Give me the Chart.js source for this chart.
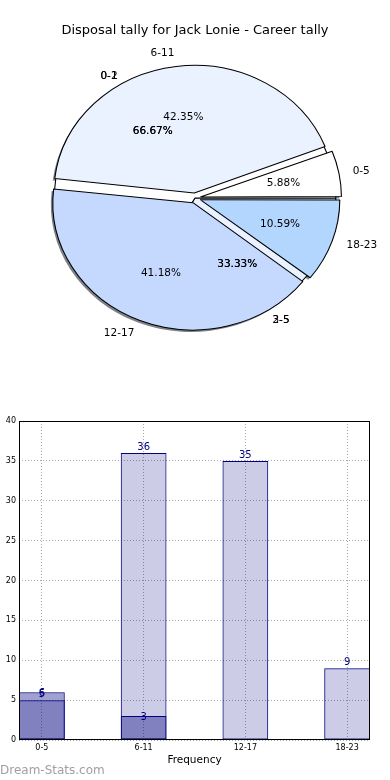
<!DOCTYPE html>
<html>
<head>
<meta charset="utf-8">
<script src="https://cdn.jsdelivr.net/npm/chart.js@4.4.0/dist/chart.umd.min.js"></script>
<style>
    html, body { margin: 0; padding: 0; background: #fff; }
    body { width: 390px; height: 780px; position: relative; overflow: hidden; font-family: 'DejaVu Sans', sans-serif; }
    .pie { position: absolute; left: 0; top: 0; }
    #pieShadow { left: -2px; top: 2px; z-index: 1; }
    #pieRookie { z-index: 2; }
    #pieCareer { z-index: 3; }
    #titulo { position: absolute; top: 21px; left: 0; width: 390px; text-align: center; font-size: 13px; line-height: 18px; color: #000; z-index: 5; }
    #barChart { position: absolute; left: 0; top: 400px; }
    #marca { position: absolute; left: 0; top: 763px; font-size: 12px; line-height: 14px; color: #a0a0a0; }
</style>
</head>
<body>
<div id="titulo">Disposal tally for Jack Lonie - Career tally</div>
<canvas id="pieShadow" class="pie" width="390" height="400"></canvas>
<canvas id="pieRookie" class="pie" width="390" height="400"></canvas>
<canvas id="pieCareer" class="pie" width="390" height="400"></canvas>
<canvas id="barChart" width="390" height="380"></canvas>
<div id="marca">Dream-Stats.com</div>

<script>
// dados
const ageGroups = ['0-5', '6-11', '12-17', '18-23'];
const careerTally = [5, 36, 35, 9];
const rookieTally = [6, 3];
const rookieLabelsA = ['0-1', '2-5'];
const rookieLabelsB = ['0-2', '3-5'];
const yTickValues = [0, 5, 10, 15, 20, 25, 30, 35, 40];

const careerColors = ['#ffffff', '#ebf2ff', '#c5d9ff', '#b3d6ff'];
const rookieColors = ['#ffffff', '#ebf2ff'];

const FONTE = "'DejaVu Sans'";
const SX = 1.1;      // pizza achatada (eixo nao "equal")
const LABEL_R = 128; // raio base dos rotulos

// ===============================
// plugin: escala horizontal da pizza
// ===============================
const elipse = {
    id: 'elipse',
    beforeDatasetsDraw(chart) {
        const { ctx, chartArea: a } = chart;
        const cx = (a.left + a.right) / 2, cy = (a.top + a.bottom) / 2;
        ctx.save();
        ctx.translate(cx, cy);
        ctx.scale(SX, 1);
        ctx.translate(-cx, -cy);
    },
    afterDatasetsDraw(chart) {
        chart.ctx.restore();
    }
};

function configPizza(valores, cores, comBorda, offsets, raio) {
    return {
        type: 'pie',
        data: {
            datasets: [{
                data: valores.slice().reverse(),
                backgroundColor: cores.slice().reverse(),
                borderColor: '#000',
                borderWidth: comBorda ? 1 : 0,
                offset: offsets,
                hoverOffset: 0
            }]
        },
        options: {
            responsive: false,
            animation: false,
            events: [],
            rotation: 90,
            radius: raio,
            layout: { padding: { bottom: 4 } },
            plugins: { legend: { display: false }, tooltip: { enabled: false } }
        },
        plugins: [elipse]
    };
}

function rotulosPizza(ctx, meta, nomes, valores) {
    const total = valores.reduce((s, v) => s + v, 0);
    const n = valores.length;
    meta.data.forEach((arc, i) => {
        const k = n - 1 - i;
        const ang = (arc.startAngle + arc.endAngle) / 2;
        const off = (arc.options.offset || 0) / 4;
        const c = Math.cos(ang), s = Math.sin(ang);

        ctx.font = '10.5px ' + FONTE;
        ctx.fillStyle = '#000';
        ctx.textBaseline = 'middle';

        const rl = off + 1.1 * LABEL_R;
        ctx.textAlign = c > 0 ? 'left' : 'right';
        ctx.fillText(nomes[k], arc.x + SX * rl * c, arc.y + rl * s);

        const rp = off + 0.6 * LABEL_R;
        ctx.textAlign = 'center';
        ctx.fillText((valores[k] / total * 100).toFixed(2) + '%', arc.x + SX * rp * c, arc.y + rp * s);
    });
}

document.addEventListener('DOMContentLoaded', function () {

    // ===============================
    // 1. Pizzas sobrepostas
    // ===============================
    const offsetsCareer = [20, 20, 20, 20];

    new Chart(document.getElementById('pieShadow'),
        configPizza(careerTally, careerColors.map(() => 'rgba(40,45,55,0.6)'), false, offsetsCareer, 125));

    const rookieChart = new Chart(document.getElementById('pieRookie'),
        configPizza(rookieTally, rookieColors, true, [0, 0], 128));

    const cfgCareer = configPizza(careerTally, careerColors, true, offsetsCareer, 125);
    cfgCareer.plugins.push({
        id: 'rotulos',
        afterDraw(chart) {
            const ctx = chart.ctx;
            ctx.save();
            rotulosPizza(ctx, chart.getDatasetMeta(0), ageGroups, careerTally);
            const metaR = rookieChart.getDatasetMeta(0);
            rotulosPizza(ctx, metaR, rookieLabelsA, rookieTally);
            rotulosPizza(ctx, metaR, rookieLabelsB, rookieTally);
            ctx.restore();
        }
    });
    new Chart(document.getElementById('pieCareer'), cfgCareer);

    // ===============================
    // 2. Barras
    // ===============================
    const moldura = {
        id: 'moldura',
        afterDatasetsDraw(chart) {
            const ctx = chart.ctx;
            ctx.save();
            ctx.fillStyle = '#000080';
            ctx.font = '10px ' + FONTE;
            ctx.textAlign = 'center';
            ctx.textBaseline = 'alphabetic';
            chart.data.datasets.forEach((ds, d) => {
                chart.getDatasetMeta(d).data.forEach((bar, i) => {
                    const y = d === 0 ? bar.y - 3 : bar.y + 3.5;
                    ctx.fillText(String(ds.data[i].y), bar.x, y);
                });
            });
            ctx.restore();
        },
        afterDraw(chart) {
            const { ctx, chartArea: a } = chart;
            ctx.save();
            ctx.strokeStyle = '#000';
            ctx.lineWidth = 1;
            ctx.strokeRect(a.left + 0.5, a.top + 0.5, a.right - a.left - 1, a.bottom - a.top - 1);
            ctx.restore();
        }
    };

    const gradeComum = { color: '#a8a8a8', drawTicks: false, offset: false };

    new Chart(document.getElementById('barChart'), {
        type: 'bar',
        data: {
            datasets: [{
                label: 'Career',
                data: careerTally.map((v, i) => ({ x: i, y: v })),
                backgroundColor: 'rgba(0,0,128,0.2)',
                borderColor: '#000080',
                borderWidth: 1,
                borderSkipped: false,
                grouped: false,
                categoryPercentage: 0.45,
                barPercentage: 1,
                order: 1
            }, {
                label: 'Rookie',
                data: rookieTally.map((v, i) => ({ x: i, y: v })),
                backgroundColor: 'rgba(0,0,128,0.37)',
                borderColor: '#000080',
                borderWidth: 1,
                borderSkipped: false,
                grouped: false,
                categoryPercentage: 0.45,
                barPercentage: 1,
                order: 0
            }]
        },
        options: {
            responsive: false,
            animation: false,
            events: [],
            layout: { padding: { top: 21, right: 20, left: 0, bottom: 0 } },
            plugins: { legend: { display: false }, tooltip: { enabled: false } },
            scales: {
                x: {
                    type: 'linear',
                    offset: false,
                    min: -0.225,
                    max: 3.225,
                    afterBuildTicks: s => { s.ticks = ageGroups.map((_, i) => ({ value: i })); },
                    afterFit: s => { s.height = 40; },
                    ticks: {
                        callback: v => ageGroups[v],
                        autoSkip: false,
                        maxRotation: 0,
                        padding: 3,
                        color: '#000',
                        font: { size: 8, family: FONTE }
                    },
                    grid: gradeComum,
                    border: { display: false, dash: [1, 2] },
                    title: {
                        display: true,
                        text: 'Frequency',
                        color: '#000',
                        font: { size: 10.5, family: FONTE },
                        padding: { top: 0, bottom: 13.7 }
                    }
                },
                y: {
                    min: 0,
                    max: 40,
                    afterBuildTicks: s => { s.ticks = yTickValues.map(v => ({ value: v })); },
                    afterFit: s => { s.width = 19; },
                    ticks: { padding: 3, color: '#000', font: { size: 8, family: FONTE } },
                    grid: gradeComum,
                    border: { display: false, dash: [1, 2] }
                }
            }
        },
        plugins: [moldura]
    });
});
</script>
</body>
</html>
